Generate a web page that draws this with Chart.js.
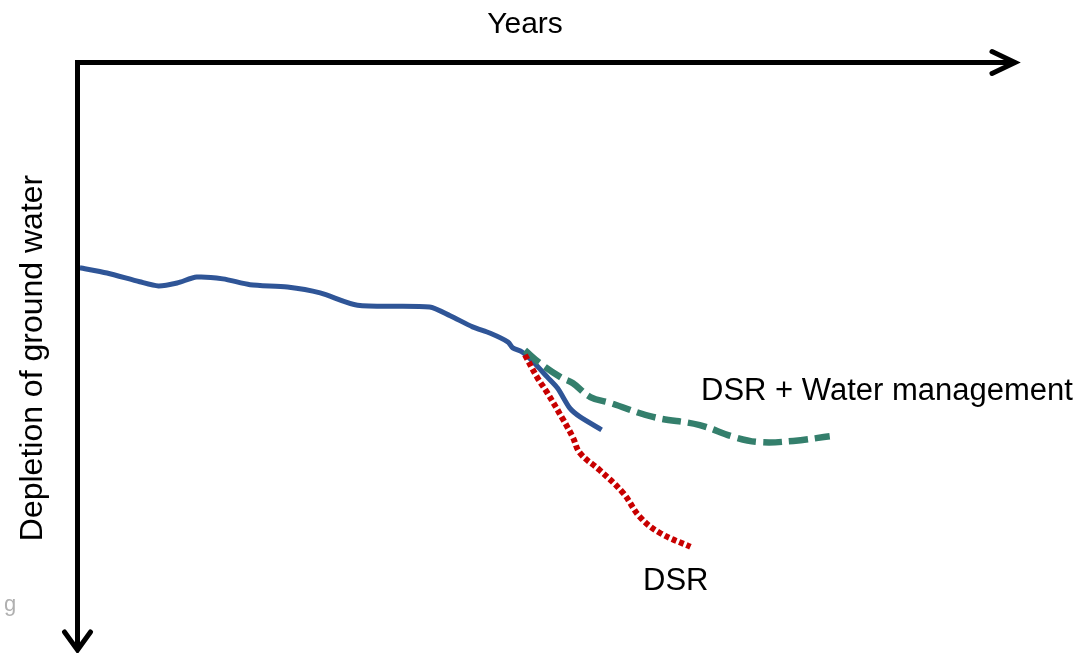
<!DOCTYPE html>
<html>
<head>
<meta charset="utf-8">
<title>Depletion of ground water</title>
<script src="https://cdn.jsdelivr.net/npm/chart.js@4.4.1/dist/chart.umd.min.js"></script>
<style>
  html, body { margin: 0; padding: 0; background: #ffffff; }
  #wrap { width: 1086px; height: 653px; position: relative; }
</style>
</head>
<body>
<div id="wrap"><canvas id="chart" width="1086" height="653"></canvas></div>
<script>
// Conventional practice: ground water keeps falling over the years
const baselineYears = [0.2, 3.1, 6.6, 8.6, 10.6, 12.7, 15.5, 18.4, 22.4, 25.9, 29.9, 37.6, 39.8, 42.2, 44.1, 46.0, 46.5, 47.5, 48.7, 50.2, 51.3, 52.6, 53.7, 56.0];
const baselineDepletion = [35.0, 35.9, 37.4, 38.1, 37.6, 36.6, 36.9, 37.9, 38.3, 39.3, 41.4, 41.7, 43.2, 45.1, 46.2, 47.7, 48.7, 49.4, 51.1, 53.7, 55.6, 59.0, 60.5, 62.7];

// Direct seeded rice combined with water management: depletion levels off
const dsrWaterYears = [47.8, 49.4, 51.6, 52.9, 54.8, 56.9, 61.5, 66.5, 70.1, 72.9, 76.5, 80.4];
const dsrWaterDepletion = [49.1, 51.3, 53.7, 54.7, 57.1, 58.1, 60.5, 61.9, 63.9, 64.8, 64.6, 63.8];

// Direct seeded rice alone: depletion accelerates
const dsrYears = [47.8, 49.1, 50.2, 51.9, 52.9, 53.7, 55.8, 58.3, 60.1, 62.2, 65.5];
const dsrDepletion = [49.9, 53.7, 56.4, 61.0, 63.9, 66.7, 69.6, 73.5, 77.6, 80.3, 82.7];

const axisTitles = { x: 'Years', y: 'Depletion of ground water' };
const seriesLabels = { dsrWater: 'DSR + Water management', dsr: 'DSR' };

const toPoints = (xs, ys) => xs.map((x, i) => ({ x: x, y: ys[i] }));

const FONT = '"Liberation Sans", Arial, Helvetica, sans-serif';

// Arrowed axes, axis titles and the curve labels
const decorations = {
  id: 'decorations',
  afterDatasetsDraw(chart) {
    const ctx = chart.ctx;
    const xs = chart.scales.x;
    const ys = chart.scales.y;
    const left = xs.left - 0.5;
    const top = ys.top - 0.5;
    const right = xs.right + 2;
    const bottom = ys.bottom + 2;

    ctx.save();
    ctx.strokeStyle = '#000000';
    ctx.lineWidth = 5;
    ctx.lineCap = 'butt';
    ctx.lineJoin = 'miter';
    ctx.beginPath();
    ctx.moveTo(left, bottom - 2);
    ctx.lineTo(left, top);
    ctx.lineTo(right - 2, top);
    ctx.stroke();

    // arrow heads
    ctx.lineCap = 'round';
    ctx.beginPath();
    ctx.moveTo(right - 23, top - 11);
    ctx.lineTo(right, top);
    ctx.lineTo(right - 23, top + 11);
    ctx.stroke();
    ctx.beginPath();
    ctx.moveTo(left - 13, bottom - 18);
    ctx.lineTo(left, bottom);
    ctx.lineTo(left + 13, bottom - 18);
    ctx.stroke();

    // axis titles
    ctx.fillStyle = '#000000';
    ctx.font = '30px ' + FONT;
    ctx.textAlign = 'center';
    ctx.textBaseline = 'alphabetic';
    ctx.fillText(axisTitles.x, 525, 33);

    ctx.save();
    ctx.translate(42, 358);
    ctx.rotate(-Math.PI / 2);
    ctx.font = '32px ' + FONT;
    ctx.fillText(axisTitles.y, 0, 0);
    ctx.restore();

    // curve labels
    ctx.font = '31px ' + FONT;
    ctx.textAlign = 'left';
    ctx.fillText(seriesLabels.dsrWater, 701, 400);
    ctx.fillText(seriesLabels.dsr, 643, 590);

    // faint mark in the lower-left corner
    ctx.fillStyle = '#b0b0b0';
    ctx.font = '22px ' + FONT;
    ctx.fillText('g', 4, 611);
    ctx.restore();
  }
};

new Chart(document.getElementById('chart'), {
  type: 'line',
  data: {
    datasets: [
      {
        label: 'Baseline',
        data: toPoints(baselineYears, baselineDepletion),
        borderColor: '#2F5597',
        borderWidth: 5,
        tension: 0.25,
        pointRadius: 0,
        fill: false,
        order: 3
      },
      {
        label: seriesLabels.dsrWater,
        data: toPoints(dsrWaterYears, dsrWaterDepletion),
        borderColor: '#347F6C',
        borderWidth: 6.5,
        borderDash: [19, 7],
        tension: 0.4,
        pointRadius: 0,
        fill: false,
        order: 2
      },
      {
        label: seriesLabels.dsr,
        data: toPoints(dsrYears, dsrDepletion),
        borderColor: '#C80000',
        borderWidth: 6,
        borderDash: [5, 3],
        tension: 0.4,
        pointRadius: 0,
        fill: false,
        order: 1
      }
    ]
  },
  options: {
    responsive: false,
    animation: false,
    devicePixelRatio: 1,
    layout: { padding: { left: 78, top: 63, right: 73, bottom: 5 } },
    scales: {
      x: { type: 'linear', min: 0, max: 100, display: false },
      y: { type: 'linear', min: 0, max: 100, reverse: true, display: false }
    },
    plugins: {
      legend: { display: false },
      tooltip: { enabled: false },
      title: { display: false }
    }
  },
  plugins: [decorations]
});
</script>
</body>
</html>
